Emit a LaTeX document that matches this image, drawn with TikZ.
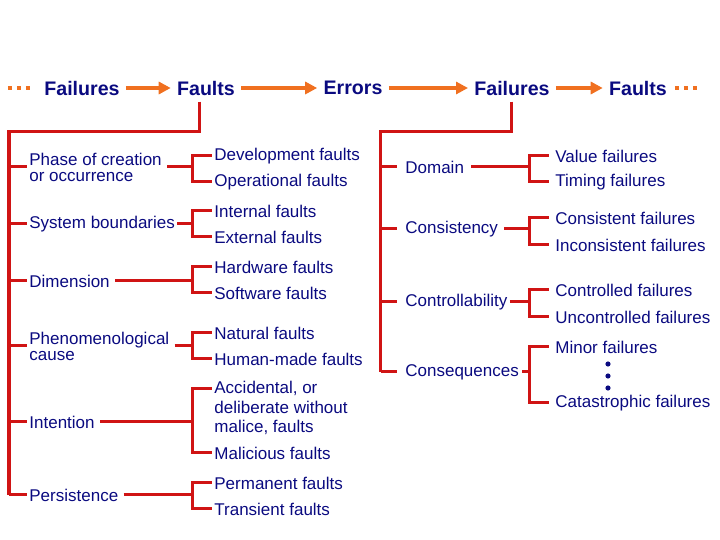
\documentclass[tikz,border=0pt]{standalone}
\usepackage{fontspec}
\setmainfont{Liberation Sans}
\usetikzlibrary{arrows.meta}
\definecolor{navy}{RGB}{10,10,128}
\definecolor{treered}{RGB}{208,20,20}
\definecolor{floworange}{RGB}{240,112,32}
\begin{document}
\begin{tikzpicture}[x=0.5pt,y=-0.5pt,>={Triangle[length=6pt,width=6pt]},
    top/.style={font=\fontsize{9.8}{11}\selectfont\bfseries, text=navy, inner sep=3pt},
    lab/.style={font=\fontsize{8.5}{8}\selectfont, text=navy, inner sep=1pt, align=left, anchor=west},
    flow/.style={->, draw=floworange, line width=2pt},
    lead/.style={draw=floworange, line width=2pt, dash pattern=on 2pt off 2.5pt},
    tree/.style={draw=treered, line width=1.5pt}]
                \useasboundingbox (0,0) rectangle (720,540);
                % chain along the top
                \node[top] (fail1) at (82,88) {Failures};
                \node[top] (fault1) at (206,88) {Faults};
                \node[top] (err) at (353,88) {Errors};
                \node[top] (fail2) at (512,88) {Failures};
                \node[top] (fault2) at (638,88) {Faults};
                \draw[flow] (fail1) -- (fault1);
                \draw[flow] (fault1) -- (err);
                \draw[flow] (err) -- (fail2);
                \draw[flow] (fail2) -- (fault2);
                \coordinate (leadin) at (8,88);
                \coordinate (leadout) at (675,88);
                \draw[lead] (leadin) -- ++(23,0);
                \draw[lead] (leadout) -- ++(23,0);
                % fault classes
                \coordinate (lspine) at (9,132);
                \coordinate (lbrack) at (193,0);
                \node[lab] (phase) at (27,167) {Phase of creation\\or occurrence};
                \node[lab] (sysb) at (27,224) {System boundaries};
                \node[lab] (dim) at (27,281) {Dimension};
                \node[lab] (phen) at (27,346) {Phenomenological\\cause};
                \node[lab] (intent) at (27,422) {Intention};
                \node[lab] (pers) at (27,495) {Persistence};
                \node[lab] (dev) at (212,156) {Development faults};
                \node[lab] (oper) at (212,182) {Operational faults};
                \node[lab] (intf) at (212,211) {Internal faults};
                \node[lab] (extf) at (212,237) {External faults};
                \node[lab] (hw) at (212,267) {Hardware faults};
                \node[lab] (sw) at (212,293) {Software faults};
                \node[lab] (nat) at (212,333) {Natural faults};
                \node[lab] (hum) at (212,359) {Human-made faults};
                \node[lab, font=\fontsize{8.5}{9.8}\selectfont] (acc) at (212,408) {Accidental, or\\deliberate without\\malice, faults};
                \node[lab] (mal) at (212,453) {Malicious faults};
                \node[lab] (perm) at (212,483) {Permanent faults};
                \node[lab] (trans) at (212,509) {Transient faults};
                \draw[tree] ([xshift=-3pt]fault1.south) |- (lspine) -- (lspine |- pers.west);
                \draw[tree] (lspine |- phase.west) -- (phase.west);
                \draw[tree] (lspine |- sysb.west) -- (sysb.west);
                \draw[tree] (lspine |- dim.west) -- (dim.west);
                \draw[tree] (lspine |- phen.west) -- (phen.west);
                \draw[tree] (lspine |- intent.west) -- (intent.west);
                \draw[tree] (lspine |- pers.west) -- (pers.west);
                \draw[tree, shorten <=1.5pt] (phase.east) -- (lbrack |- phase.east);
                \draw[tree] (sysb.east) -- (lbrack |- sysb.east);
                \draw[tree, shorten <=1.5pt] (dim.east) -- (lbrack |- dim.east);
                \draw[tree, shorten <=1.5pt] (phen.east) -- (lbrack |- phen.east);
                \draw[tree, shorten <=1.5pt] (intent.east) -- (lbrack |- intent.east);
                \draw[tree, shorten <=1.5pt] (pers.east) -- (lbrack |- pers.east);
                \draw[tree] (dev.west) -| (lbrack |- phase.east) |- (oper.west);
                \draw[tree] (intf.west) -| (lbrack |- sysb.east) |- (extf.west);
                \draw[tree] (hw.west) -| (lbrack |- dim.east) |- (sw.west);
                \draw[tree] (nat.west) -| (lbrack |- phen.east) |- (hum.west);
                \draw[tree] ([yshift=-5pt]acc.north west) -| (lbrack |- intent.east) |- (mal.west);
                \draw[tree] (perm.west) -| (lbrack |- pers.east) |- (trans.west);
                % failure modes
                \coordinate (rspine) at (381,132);
                \coordinate (rbrack) at (530,0);
                \node[lab] (domain) at (403,167) {Domain};
                \node[lab] (consist) at (403,229) {Consistency};
                \node[lab] (control) at (403,302) {Controllability};
                \node[lab] (conseq) at (403,372) {Consequences};
                \node[lab] (value) at (553,156) {Value failures};
                \node[lab] (timing) at (553,182) {Timing failures};
                \node[lab] (consf) at (553,218) {Consistent failures};
                \node[lab] (inconsf) at (553,245) {Inconsistent failures};
                \node[lab] (ctrlf) at (553,290) {Controlled failures};
                \node[lab] (unctrlf) at (553,317) {Uncontrolled failures};
                \node[lab] (minor) at (553,347) {Minor failures};
                \node[lab] (catas) at (553,403) {Catastrophic failures};
                \draw[tree] (fail2.south) |- (rspine) -- (rspine |- conseq.west);
                \draw[tree, shorten >=3pt] (rspine |- domain.west) -- (domain.west);
                \draw[tree, shorten >=3pt] (rspine |- consist.west) -- (consist.west);
                \draw[tree, shorten >=3pt] (rspine |- control.west) -- (control.west);
                \draw[tree, shorten >=3pt] (rspine |- conseq.west) -- (conseq.west);
                \draw[tree, shorten <=2.5pt] (domain.east) -- (rbrack |- domain.east);
                \draw[tree, shorten <=2pt] (consist.east) -- (rbrack |- consist.east);
                \draw[tree] (control.east) -- (rbrack |- control.east);
                \draw[tree, shorten <=0.5pt] (conseq.east) -- (rbrack |- conseq.east);
                \draw[tree, shorten <=2pt, shorten >=2pt] (value.west) -| (rbrack |- domain.east) |- (timing.west);
                \draw[tree, shorten <=2pt, shorten >=2pt] (consf.west) -| (rbrack |- consist.east) |- (inconsf.west);
                \draw[tree, shorten <=2pt, shorten >=2pt] (ctrlf.west) -| (rbrack |- control.east) |- (unctrlf.west);
                \draw[tree, shorten <=2pt, shorten >=2pt] (minor.west) -| (rbrack |- conseq.east) |- (catas.west);
                \fill[navy] (608,364) circle (1.3pt) (608,376) circle (1.3pt) (608,388) circle (1.3pt);
\end{tikzpicture}
\end{document}
